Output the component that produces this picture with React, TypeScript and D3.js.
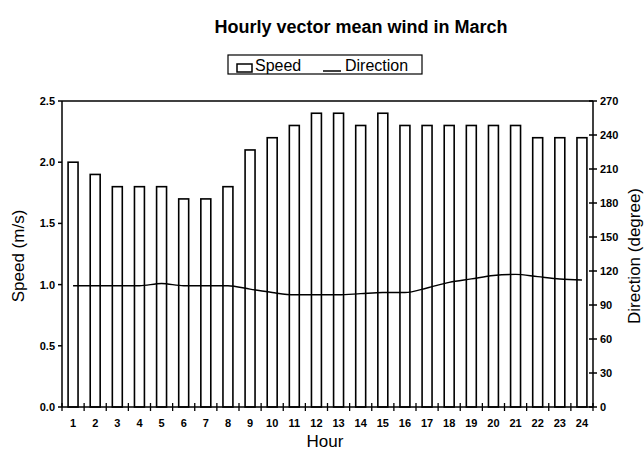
import React from 'react';
import * as d3 from 'd3';

// hourly vector mean wind, March
const hours = [1, 2, 3, 4, 5, 6, 7, 8, 9, 10, 11, 12, 13, 14, 15, 16, 17, 18, 19, 20, 21, 22, 23, 24];
const speed = [2.0, 1.9, 1.8, 1.8, 1.8, 1.7, 1.7, 1.8, 2.1, 2.2, 2.3, 2.4, 2.4, 2.3, 2.4, 2.3, 2.3, 2.3, 2.3, 2.3, 2.3, 2.2, 2.2, 2.2];
const direction = [107, 107, 107, 107, 109, 107, 107, 107, 104, 101, 99, 99, 99, 100, 101, 101, 105, 110, 113, 116, 117, 115, 113, 112];
const speedTicks = [0, 0.5, 1.0, 1.5, 2.0, 2.5];
const directionTicks = [0, 30, 60, 90, 120, 150, 180, 210, 240, 270];

const W = 644;
const H = 454;
const left = 62;
const right = 593;
const top = 101;
const bottom = 407;
const font = '"Liberation Sans", Arial, sans-serif';

const App = () => {
  const x = d3.scaleBand<string>()
    .domain(hours.map(String))
    .range([left, right])
    .paddingInner(0.55)
    .paddingOuter(0.275);
  const ySpeed = d3.scaleLinear().domain([0, 2.5]).range([bottom, top]);
  const yDir = d3.scaleLinear().domain([0, 270]).range([bottom, top]);

  const cx = (h: number) => (x(String(h)) as number) + x.bandwidth() / 2;
  const line = d3.line<number>()
    .x((d, i) => cx(hours[i]))
    .y(d => yDir(d))
    .curve(d3.curveMonotoneX);

  const step = x.step();
  const hourTicks = d3.range(hours.length + 1).map(i => left + i * step);

  return (
    <svg width={W} height={H} style={{ position: 'absolute', left: 0, top: 0, background: '#fff' }}>
      <text x={361} y={33} textAnchor="middle" fontFamily={font} fontSize={18} fontWeight="bold">
        Hourly vector mean wind in March
      </text>

      {/* legend */}
      <g fontFamily={font} fontSize={16}>
        <rect x={228} y={55} width={194} height={19} fill="#fff" stroke="#000" strokeWidth={1.2} />
        <rect x={237} y={64} width={15} height={8} fill="#fff" stroke="#000" strokeWidth={1.5} />
        <text x={255} y={71}>Speed</text>
        <line x1={323} x2={341} y1={71} y2={71} stroke="#000" strokeWidth={1.5} />
        <text x={345} y={71}>Direction</text>
      </g>

      {/* bars */}
      {hours.map((h, i) => (
        <rect
          key={h}
          x={x(String(h))}
          y={ySpeed(speed[i])}
          width={x.bandwidth()}
          height={bottom - ySpeed(speed[i])}
          fill="#fff"
          stroke="#000"
          strokeWidth={1.6}
        />
      ))}

      <path d={line(direction) || ''} fill="none" stroke="#000" strokeWidth={1.4} />

      {/* frame */}
      <g stroke="#000" strokeWidth={1.5} fill="none">
        <line x1={left} x2={right} y1={top} y2={top} />
        <line x1={left} x2={left} y1={top} y2={bottom} />
        <line x1={right} x2={right} y1={top} y2={bottom} />
        <line x1={left} x2={right} y1={bottom} y2={bottom} />
      </g>

      {/* left axis */}
      <g fontFamily={font} fontSize={11} fontWeight="bold">
        {speedTicks.map(t => (
          <g key={t}>
            <line x1={left - 4} x2={left} y1={ySpeed(t)} y2={ySpeed(t)} stroke="#000" strokeWidth={1.5} />
            <text x={left - 7} y={ySpeed(t) + 4} textAnchor="end">{t.toFixed(1)}</text>
          </g>
        ))}
      </g>

      {/* right axis */}
      <g fontFamily={font} fontSize={11} fontWeight="bold">
        {directionTicks.map(t => (
          <g key={t}>
            <line x1={right - 4} x2={right + 4} y1={yDir(t)} y2={yDir(t)} stroke="#000" strokeWidth={1.5} />
            <text x={right + 7} y={yDir(t) + 4}>{t}</text>
          </g>
        ))}
      </g>

      {/* bottom axis */}
      <g fontFamily={font} fontSize={11} fontWeight="bold">
        {hourTicks.map((t, i) => (
          <line key={i} x1={t} x2={t} y1={bottom - 4} y2={bottom + 4} stroke="#000" strokeWidth={1.3} />
        ))}
        {hours.map(h => (
          <text key={h} x={cx(h)} y={427} textAnchor="middle">{h}</text>
        ))}
      </g>

      <text x={325} y={447} textAnchor="middle" fontFamily={font} fontSize={17}>Hour</text>
      <text
        transform={`translate(24, 256) rotate(-90)`}
        textAnchor="middle"
        fontFamily={font}
        fontSize={17}
      >
        Speed (m/s)
      </text>
      <text
        transform={`translate(640, 256) rotate(-90)`}
        textAnchor="middle"
        fontFamily={font}
        fontSize={17}
      >
        Direction (degree)
      </text>
    </svg>
  );
};

export default App;
